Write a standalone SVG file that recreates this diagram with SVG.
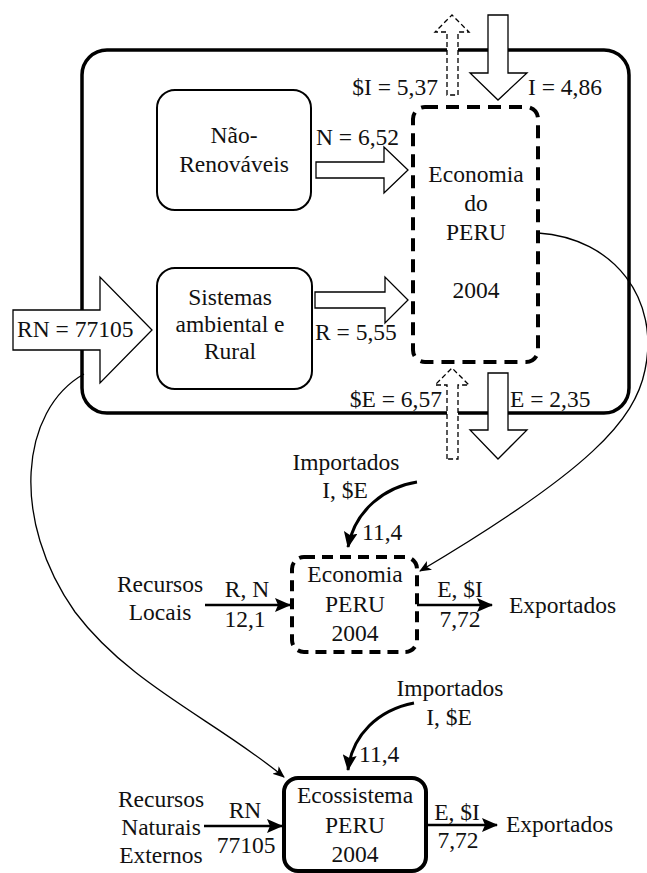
<svg xmlns="http://www.w3.org/2000/svg" width="647" height="873" viewBox="0 0 647 873">
<defs>
<marker id="ah" markerUnits="userSpaceOnUse" markerWidth="16" markerHeight="14" refX="15" refY="7" orient="auto"><path d="M0,0 L16,7 L0,14 L3,7 z" fill="#000"/></marker>
<marker id="ahs" markerUnits="userSpaceOnUse" markerWidth="12" markerHeight="10" refX="11" refY="5" orient="auto"><path d="M0,0 L12,5 L0,10 L3,5 z" fill="#000"/></marker>
</defs>
<style>
text{font-family:"Liberation Serif","Times New Roman",serif;font-size:23.5px;fill:#111}
.c{text-anchor:middle}
.e{text-anchor:end}
.outer{fill:none;stroke:#000;stroke-width:3.5}
.box{fill:#fff;stroke:#000;stroke-width:2}
.dbox{fill:none;stroke:#000;stroke-width:4;stroke-dasharray:13 8}
.dbox2{fill:none;stroke:#000;stroke-width:4;stroke-dasharray:11 7}
.sbox{fill:none;stroke:#000;stroke-width:4}
.fat{fill:#fff;stroke:#000;stroke-width:1.3}
.dfat{fill:#fff;stroke:#000;stroke-width:1.3;stroke-dasharray:5 3}
.flow{fill:none;stroke:#000;stroke-width:2.5}
.imp{fill:none;stroke:#000;stroke-width:3}
.thin{fill:none;stroke:#000;stroke-width:1.3}
</style>
<rect fill="#fff" width="647" height="873"/>

<g id="outer-system">
<rect class="outer" x="82" y="50" width="547" height="363" rx="25"/>
</g>

<g id="connectors">
<path class="fat" d="M13,310 L100,310 L100,277 L152,330 L100,383 L100,350 L13,350 Z"/>
<path class="fat" d="M316,162 L384,162 L384,147 L408,170 L384,193 L384,178 L316,178 Z"/>
<path class="fat" d="M315,292 L385,292 L385,277 L408,300 L385,323 L385,308 L315,308 Z"/>
<path class="fat" d="M488,15 L508,15 L508,73 L527,73 L498,100 L470,73 L488,73 Z"/>
<path class="dfat" d="M447,95 L447,32 L435,32 L452,15 L469,32 L458,32 L458,95 Z"/>
<path class="dfat" d="M447,459 L447,385 L435,385 L452,368 L469,385 L458,385 L458,459 Z"/>
<path class="fat" d="M488,373 L508,373 L508,430 L527,430 L498,459 L470,430 L488,430 Z"/>
<path class="thin" d="M84,374 C20,410 10,520 75,612 C130,685 215,720 284,777" marker-end="url(#ahs)"/>
<path class="thin" d="M538,233 C615,238 660,300 645,370 C635,420 590,470 420,571" marker-end="url(#ahs)"/>
<path class="imp" d="M417,482 C385,487 355,510 348,547" marker-end="url(#ah)"/>
<path class="flow" d="M205,605 L290,605" marker-end="url(#ah)"/>
<path class="flow" d="M417,605 L492,605" marker-end="url(#ah)"/>
<path class="imp" d="M414,703 C378,710 352,735 348,770" marker-end="url(#ah)"/>
<path class="flow" d="M204,826 L282,826" marker-end="url(#ah)"/>
<path class="flow" d="M426,825 L497,825" marker-end="url(#ah)"/>
</g>

<g id="labels">
<text x="17" y="337">RN = 77105</text>
<text x="316" y="145">N = 6,52</text>
<text x="315" y="340">R = 5,55</text>
<text class="e" x="438" y="95">$I = 5,37</text>
<text x="528" y="95">I = 4,86</text>
<text class="e" x="442" y="407">$E = 6,57</text>
<text x="510" y="407">E = 2,35</text>
<text class="c" x="346" y="470">Importados</text>
<text class="c" x="345" y="498">I, $E</text>
<text x="362" y="540">11,4</text>
<text class="c" x="160" y="592">Recursos</text>
<text class="c" x="160" y="620">Locais</text>
<text class="c" x="247" y="597">R, N</text>
<text class="c" x="245" y="627">12,1</text>
<text class="c" x="460" y="597">E, $I</text>
<text class="c" x="460" y="627">7,72</text>
<text x="509" y="613">Exportados</text>
<text class="c" x="450" y="696">Importados</text>
<text class="c" x="449" y="725">I, $E</text>
<text x="359" y="762">11,4</text>
<text class="c" x="161" y="807">Recursos</text>
<text class="c" x="161" y="835">Naturais</text>
<text class="c" x="161" y="863">Externos</text>
<text class="c" x="245" y="818">RN</text>
<text class="c" x="246" y="853">77105</text>
<text class="c" x="457" y="820">E, $I</text>
<text class="c" x="458" y="848">7,72</text>
<text x="506" y="832">Exportados</text>
</g>

<g id="nao-renovaveis">
<rect class="box" x="157" y="90" width="154" height="120" rx="18"/>
<text class="c" x="234" y="143">Não-</text>
<text class="c" x="234" y="172">Renováveis</text>
</g>

<g id="sistemas">
<rect class="box" x="157" y="268" width="155" height="121" rx="18"/>
<text class="c" x="230" y="305">Sistemas</text>
<text class="c" x="230" y="332">ambiental e</text>
<text class="c" x="230" y="359">Rural</text>
</g>

<g id="economia-do-peru">
<rect class="dbox" x="413" y="107" width="125" height="255" rx="12"/>
<text class="c" x="476" y="182">Economia</text>
<text class="c" x="476" y="211">do</text>
<text class="c" x="476" y="240">PERU</text>
<text class="c" x="476" y="298">2004</text>
</g>

<g id="economia-peru">
<rect class="dbox2" x="292" y="557" width="125" height="95" rx="12"/>
<text class="c" x="355" y="582">Economia</text>
<text class="c" x="355" y="612">PERU</text>
<text class="c" x="355" y="641">2004</text>
</g>

<g id="ecossistema-peru">
<rect class="sbox" x="284" y="778" width="142" height="93" rx="14"/>
<text class="c" x="355" y="803">Ecossistema</text>
<text class="c" x="355" y="833">PERU</text>
<text class="c" x="355" y="862">2004</text>
</g>
</svg>
